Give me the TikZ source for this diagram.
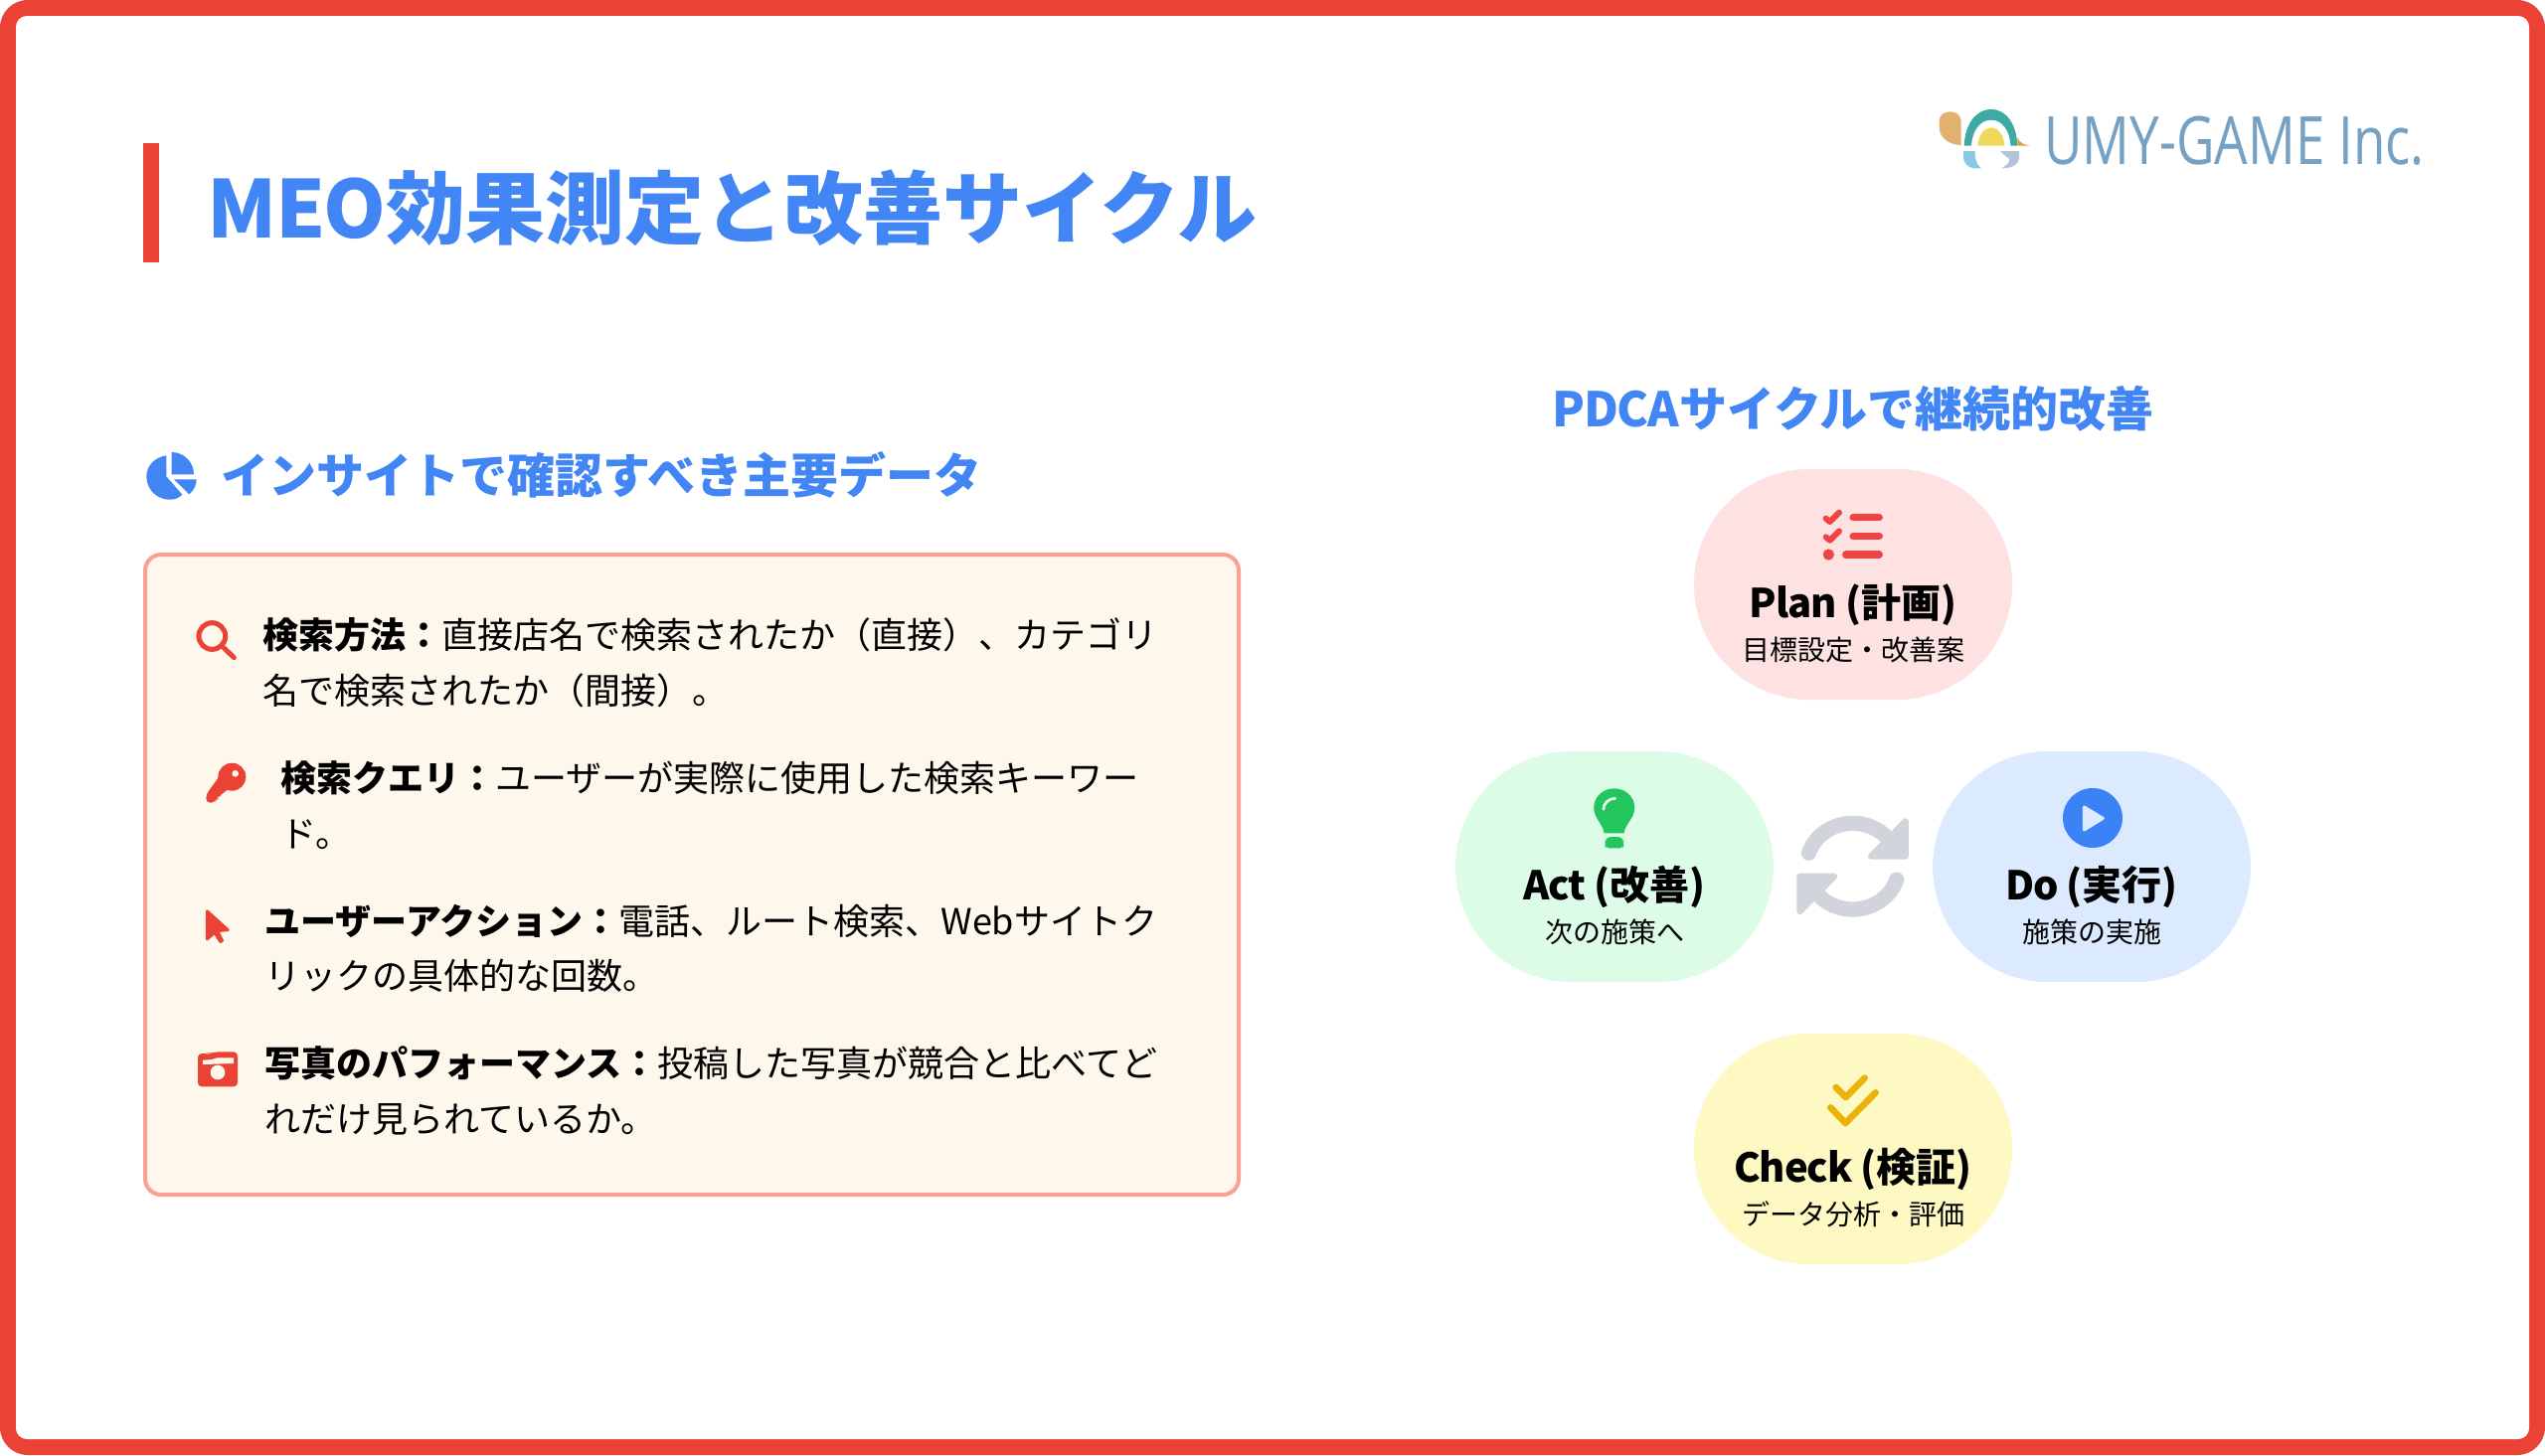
\documentclass[tikz,border=0pt]{standalone}
\usepackage{fontspec}
\setmainfont{Noto Sans CJK JP}
\newfontfamily\logofont{Open Sans}
\definecolor{frameRed}{HTML}{EA4335}
\definecolor{titleBlue}{HTML}{4285F4}
\definecolor{boxFill}{HTML}{FEF7EC}
\definecolor{boxEdge}{HTML}{F9A195}
\definecolor{planFill}{HTML}{FEE2E2}
\definecolor{actFill}{HTML}{DCFCE7}
\definecolor{doFill}{HTML}{DBEAFE}
\definecolor{checkFill}{HTML}{FEF9C3}
\definecolor{planIc}{HTML}{EF4444}
\definecolor{actIc}{HTML}{22C55E}
\definecolor{doIc}{HTML}{3B82F6}
\definecolor{checkIc}{HTML}{EAB308}
\definecolor{syncGrey}{HTML}{D1D5DB}
\definecolor{logoText}{HTML}{74A1C4}
\newcommand{\fs}[1]{\fontsize{#1pt}{#1pt}\selectfont}
\newcommand{\ltn}[1]{{\addfontfeature{LetterSpace=-2.5}#1}}
\tikzset{
  titletext/.style={anchor=base west,inner sep=0pt,text=titleBlue,font=\fs{40}\bfseries},
  headtext/.style={inner sep=0pt,text=titleBlue,font=\fs{24}\bfseries},
  rowtext/.style={anchor=base west,inner sep=0pt,text=black,font=\fs{18}},
  pilltitle/.style={anchor=base,inner sep=0pt,text=black,font=\fs{20}\bfseries},
  pillsub/.style={anchor=base,inner sep=0pt,text=black,font=\fs{14}},
  pill/.style={rounded corners=57.9pt},
  zoomed/.style={x=0.1666667pt,y=-0.1666667pt},
  zoomwide/.style={x=0.1785714pt,y=-0.1666667pt}
}
\begin{document}
\begin{tikzpicture}[x=0.5pt,y=-0.5pt]
\useasboundingbox (0,0) rectangle (2560,1464);
% frame
\fill[white] (0,0) rectangle (2560,1464);
\fill[frameRed,rounded corners=14pt] (0,0) rectangle (2560,1464);
\fill[white,rounded corners=5.5pt] (16,16) rectangle (2544,1448);
% title
\fill[frameRed] (144,144) rectangle (160,264);
\node[titletext] (title) at (208.5,239) {\ltn{MEO}効果測定と改善サイクル};
% logo
\begin{scope}[shift={(1900,80)},zoomwide]
  \fill[color={rgb,255:red,227;green,177;blue,111}] (203,198) -- (203,125) .. controls (203,108) and (190,97) .. (172,97) .. controls (155,97) and (142,108) .. (142,125) -- (142,145) .. controls (142,175) and (170,198) .. (203,198) -- cycle;
  \fill[color={rgb,255:red,63;green,169;blue,165}] (212,200) .. controls (214,135) and (245,90) .. (288,90) .. controls (331,90) and (360,135) .. (362,200) -- (343,200) .. controls (341,155) and (320,122) .. (288,122) .. controls (256,122) and (235,155) .. (232,200) -- cycle;
  \fill[color={rgb,255:red,239;green,217;blue,92}] (250,200) .. controls (252,168) and (268,145) .. (288,145) .. controls (308,145) and (324,168) .. (326,200) -- cycle;
  \fill[color={rgb,255:red,224;green,160;blue,48}] (362,175) .. controls (368,190) and (380,198) .. (398,200) -- (362,200) -- cycle;
  \fill[color={rgb,255:red,141;green,198;blue,229}] (210,216) -- (243,216) .. controls (241,240) and (248,258) .. (260,268) -- (240,268) .. controls (222,266) and (210,252) .. (210,235) -- cycle;
  \fill[color={rgb,255:red,177;green,196;blue,216}] (314,216) -- (367,216) -- (367,238) .. controls (365,256) and (348,268) .. (318,268) .. controls (332,258) and (340,250) .. (340,240) .. controls (332,234) and (322,226) .. (314,216) -- cycle;
\end{scope}
\node[anchor=base west,inner sep=0pt,text=logoText,xscale=0.79] (logo) at (2056,165) {\logofont\fs{33.5}UMY-GAME Inc.};
% section heading
\begin{scope}[shift={(130,420)},zoomed]
  \fill[titleBlue] (112,115) .. controls (78,120) and (52,145) .. (52,178) .. controls (52,218) and (84,248) .. (122,248) .. controls (138,248) and (150,243) .. (160,233) -- (112,178) -- cycle;
  \fill[titleBlue] (128,105) .. controls (165,105) and (195,135) .. (195,172) -- (128,172) -- cycle;
  \fill[titleBlue] (135,187) -- (203,187) .. controls (203,205) and (195,220) .. (181,232) -- cycle;
\end{scope}
\node[headtext,anchor=base west] (heading) at (222,496) {インサイトで確認すべき主要データ};
% box
\draw[boxEdge,fill=boxFill,line width=2pt,rounded corners=8pt] (146,558) rectangle (1246,1202);
% rows
\begin{scope}[shift={(130,420)},zoomed]
  \draw[frameRed,line width=2.5pt] (250,660) circle[radius=40];
  \draw[frameRed,line width=2.5pt,line cap=round] (285,695) -- (316,725);
\end{scope}
\node[rowtext] (r1a) at (264,652) {\bfseries 検索方法：\mdseries 直接店名で検索されたか（直接）、カテゴリ};
\node[rowtext] (r1b) at (264,708) {名で検索されたか（間接）。};
\begin{scope}[shift={(180,740)},zoomed]
  \fill[frameRed] (160,125) circle[radius=42];
  \fill[frameRed,rounded corners=2pt] (128,115) -- (82,178) -- (82,203) -- (110,203) -- (110,190) -- (122,190) -- (125,175) -- (138,172) -- (162,150) -- cycle;
  \fill[boxFill] (170,115) circle[radius=10];
\end{scope}
\node[rowtext] (r2a) at (282,796) {\bfseries 検索クエリ：\mdseries ユーザーが実際に使用した検索キーワー};
\node[rowtext] (r2b) at (282,852) {ド。};
\begin{scope}[shift={(180,740)},zoomed]
  \filldraw[frameRed,line width=1.4pt,line join=round] (85,530) -- (148,587) -- (116,590) -- (131,620) -- (125,623) -- (108,595) -- (85,615) -- cycle;
\end{scope}
\node[rowtext] (r3a) at (266,940) {\bfseries ユーザーアクション：\mdseries 電話、ルート検索、Webサイトク};
\node[rowtext] (r3b) at (266,995) {リックの具体的な回数。};
\begin{scope}[shift={(180,740)},zoomed]
  \fill[frameRed,rounded corners=2pt] (57,960) -- (90,960) -- (95,963) -- (105,955) -- (177,955) -- (177,1060) -- (57,1060) -- cycle;
  \fill[boxFill] (72,980) -- (100,978) -- (115,973) -- (165,973) -- (165,990) -- (72,993) -- cycle;
  \fill[boxFill] (117,1017) circle[radius=22];
\end{scope}
\node[rowtext] (r4a) at (266,1083.5) {\bfseries 写真のパフォーマンス：\mdseries 投稿した写真が競合と比べてど};
\node[rowtext] (r4b) at (266,1139.5) {れだけ見られているか。};
% PDCA heading
\node[headtext,anchor=base] (pdca) at (1864,429) {\ltn{PDCA}サイクルで継続的改善};
% pills
\fill[planFill,pill] (1704,472) rectangle (2024,704);
\fill[actFill,pill] (1464,756) rectangle (1784,988);
\fill[doFill,pill] (1944,756) rectangle (2264,988);
\fill[checkFill,pill] (1704,1040) rectangle (2024,1272);
% plan
\begin{scope}[shift={(1780,480)},zoomed]
  \draw[planIc,line width=3pt,line cap=round,line join=round] (170,125) -- (182,135) -- (210,107);
  \draw[planIc,line width=3pt,line cap=round,line join=round] (170,181) -- (182,191) -- (210,163);
  \fill[planIc] (178,234) circle[radius=17];
  \draw[planIc,line width=3.6pt,line cap=round] (252,122) -- (331,122);
  \draw[planIc,line width=3.6pt,line cap=round] (252,178) -- (331,178);
  \draw[planIc,line width=3.6pt,line cap=round] (230,234) -- (331,234);
\end{scope}
\node[pilltitle] (plan) at (1864,621) {\ltn{Plan (}計画)};
\node[pillsub] (plansub) at (1864,664) {目標設定・改善案};
% act
\begin{scope}[shift={(1570,770)},zoomwide]
  \fill[actIc] (150,70) .. controls (118,70) and (93,96) .. (93,128) .. controls (93,160) and (118,175) .. (122,205) -- (178,205) .. controls (182,175) and (208,160) .. (208,128) .. controls (208,96) and (183,70) .. (150,70) -- cycle;
  \fill[actIc,rounded corners=3pt] (125,216) -- (177,216) -- (177,232) .. controls (177,242) and (165,250) .. (151,250) .. controls (137,250) and (125,242) .. (125,232) -- cycle;
  \draw[actFill,line width=1.4pt,line cap=round] (120,133) .. controls (120,115) and (135,100) .. (153,100);
\end{scope}
\node[pilltitle] (act) at (1624,905) {\ltn{Act (}改善)};
\node[pillsub] (actsub) at (1624,948) {次の施策へ};
% sync
\begin{scope}[shift={(1570,770)},zoomwide]
  \draw[syncGrey,line width=7.6pt,line cap=round] (822,305) ++(198:130) arc (198:318:130);
  \draw[syncGrey,line width=7.6pt,line cap=round] (822,305) ++(18:130) arc (18:138:130);
  \filldraw[syncGrey,line width=3pt,line join=round] (971,168) -- (971,275) -- (873,275) -- cycle;
  \filldraw[syncGrey,line width=3pt,line join=round] (673,442) -- (673,335) -- (771,335) -- cycle;
\end{scope}
% do
\fill[doIc] (2105,823) circle[radius=30];
\begin{scope}[shift={(1570,770)},zoomwide]
  \filldraw[doFill,line width=1.5pt,line join=round] (1474,126) -- (1527,160) -- (1474,195) -- cycle;
\end{scope}
\node[pilltitle] (do) at (2104,905) {\ltn{Do (}実行)};
\node[pillsub] (dosub) at (2104,948) {施策の実施};
% check
\begin{scope}[shift={(1780,1060)},zoomed]
  \draw[checkIc,line width=3.3pt,line cap=round,line join=round] (200,102) -- (230,132) -- (287,74);
  \draw[checkIc,line width=3.3pt,line cap=round,line join=round] (184,163) -- (229,210) -- (320,118);
\end{scope}
\node[pilltitle] (check) at (1864,1189) {\ltn{Check (}検証)};
\node[pillsub] (checksub) at (1864,1232) {データ分析・評価};
\end{tikzpicture}
\end{document}
